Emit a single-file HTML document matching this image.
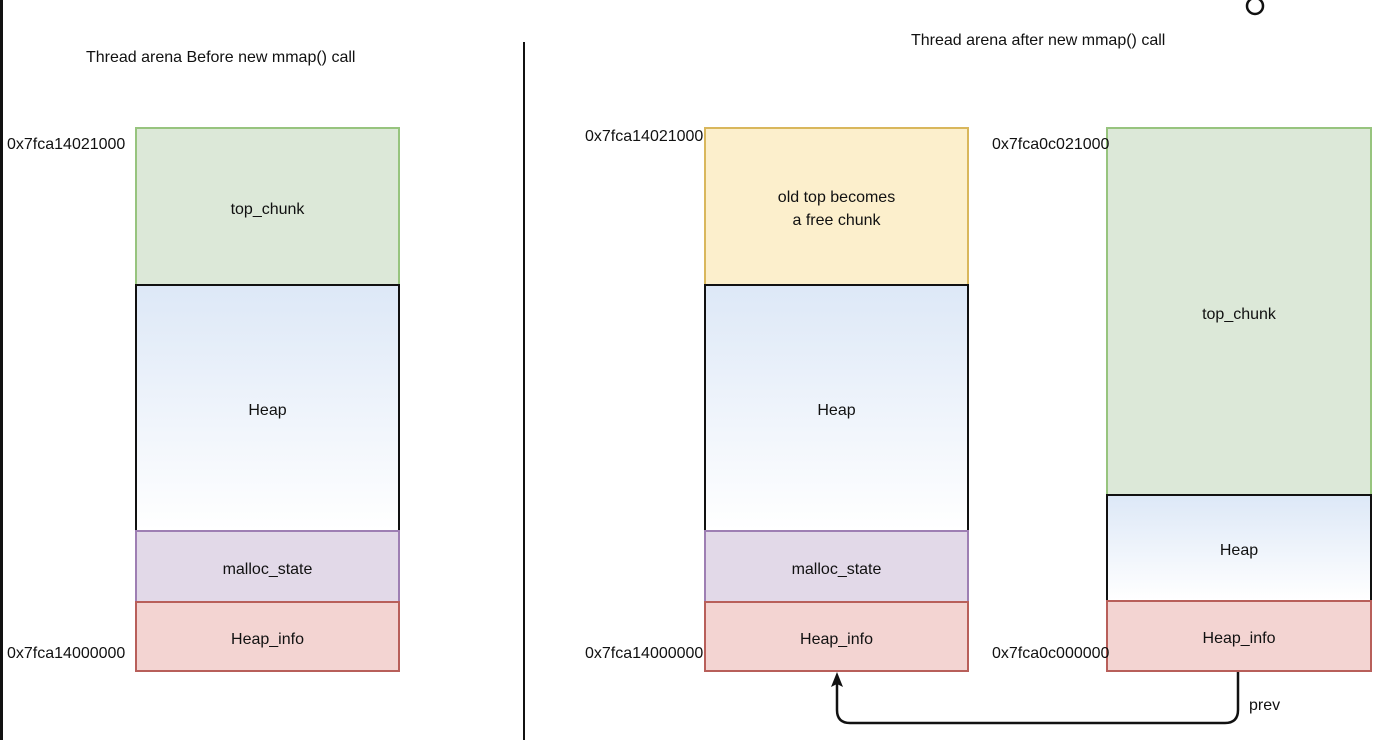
<!DOCTYPE html>
<html><head><style>
body{margin:0;width:1388px;height:740px;background:#fff;position:relative;overflow:hidden;font-family:"Liberation Sans",sans-serif;font-size:16px;color:#111}
.b{position:absolute;box-sizing:border-box;display:flex;align-items:center;justify-content:center;text-align:center;line-height:23px;padding-top:5px}
.g{background:#dce8d8;border:2px solid #97c47e}
.h{background:linear-gradient(#dde8f7,#fff);border:2px solid #111}
.m{background:#e2d9e8;border:2px solid #9e7fb3}
.r{background:#f3d4d2;border:2px solid #b85f5a}
.y{background:#fcefcc;border:2px solid #d9b75c}
.t{position:absolute;white-space:nowrap}
</style></head><body>
<div style="position:absolute;left:0;top:0;width:3px;height:740px;background:#111"></div>
<div style="position:absolute;left:523px;top:42px;width:2px;height:698px;background:#111"></div>
<div class="t" style="left:86px;top:49px">Thread arena Before new mmap() call</div>
<div class="t" style="left:911px;top:32px">Thread arena after new mmap() call</div>

<div class="b g" style="left:135px;top:127px;width:265px;height:159px">top_chunk</div>
<div class="b h" style="left:135px;top:284px;width:265px;height:248px">Heap</div>
<div class="b m" style="left:135px;top:530px;width:265px;height:73px">malloc_state</div>
<div class="b r" style="left:135px;top:601px;width:265px;height:71px">Heap_info</div>
<div class="t" style="left:7px;top:136px">0x7fca14021000</div>
<div class="t" style="left:7px;top:645px">0x7fca14000000</div>

<div class="b y" style="left:704px;top:127px;width:265px;height:159px">old top becomes<br>a free chunk</div>
<div class="b h" style="left:704px;top:284px;width:265px;height:248px">Heap</div>
<div class="b m" style="left:704px;top:530px;width:265px;height:73px">malloc_state</div>
<div class="b r" style="left:704px;top:601px;width:265px;height:71px">Heap_info</div>
<div class="t" style="left:585px;top:128px">0x7fca14021000</div>
<div class="t" style="left:585px;top:645px">0x7fca14000000</div>

<div class="b g" style="left:1106px;top:127px;width:266px;height:370px">top_chunk</div>
<div class="b h" style="left:1106px;top:494px;width:266px;height:108px">Heap</div>
<div class="b r" style="left:1106px;top:600px;width:266px;height:72px">Heap_info</div>
<div class="t" style="left:992px;top:136px">0x7fca0c021000</div>
<div class="t" style="left:992px;top:645px">0x7fca0c000000</div>
<div class="t" style="left:1249px;top:697px">prev</div>

<svg style="position:absolute;left:0;top:0" width="1388" height="740">
<path d="M1238 672 V710 Q1238 723 1225 723 H850 Q837 723 837 710 V684" fill="none" stroke="#111" stroke-width="2.5"/>
<polygon points="837,672 831,687 837,684 843,687" fill="#111"/>
<circle cx="1255" cy="6" r="8" fill="none" stroke="#111" stroke-width="2.5"/>
</svg>
</body></html>
